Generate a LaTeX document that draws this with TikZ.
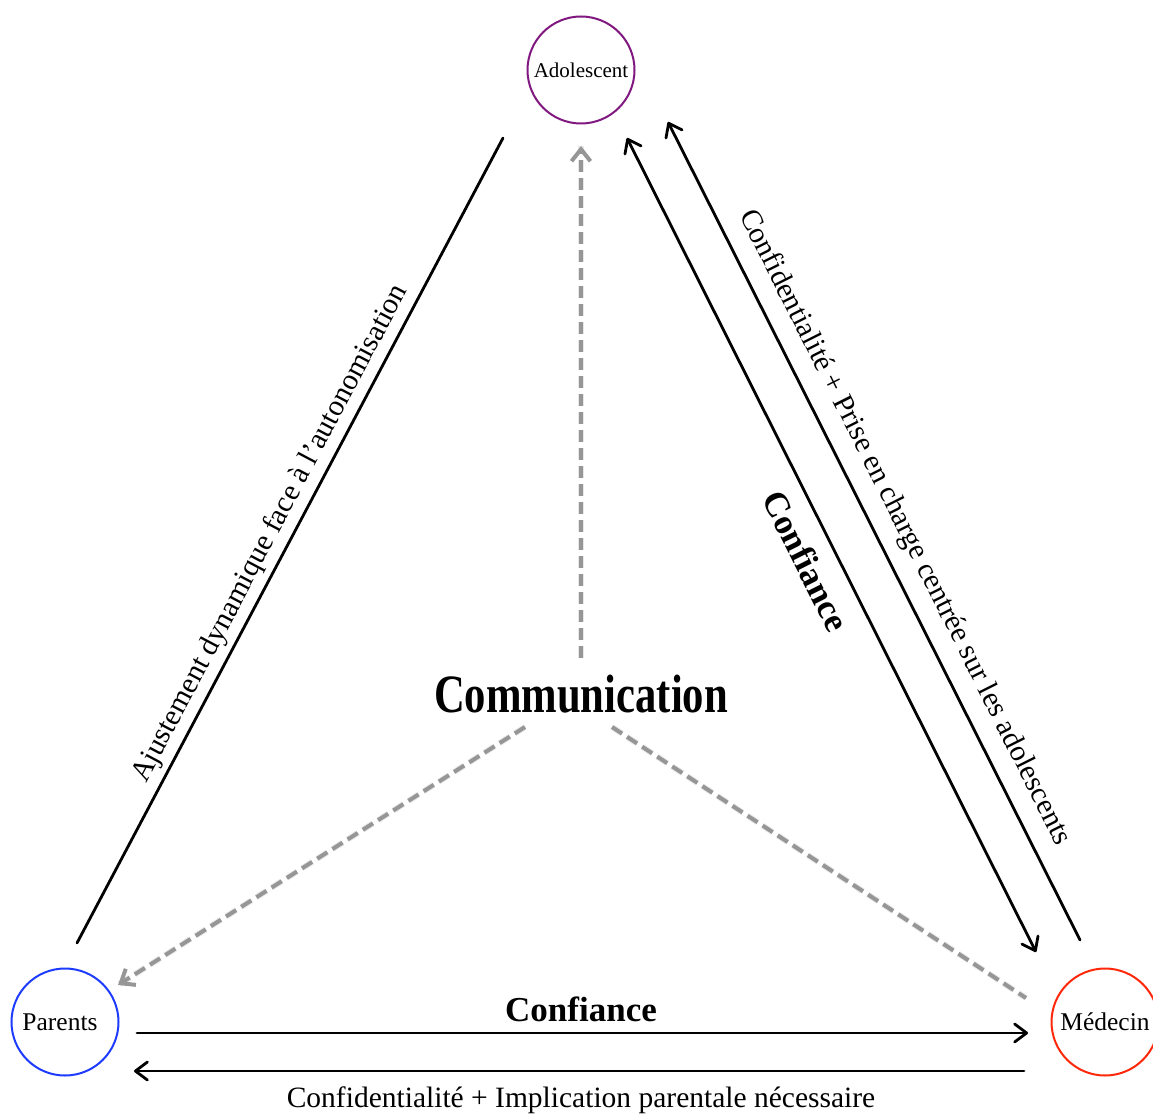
\documentclass[tikz,border=0pt]{standalone}
\usepackage{fontspec}
\setmainfont{Liberation Serif}
\usetikzlibrary{arrows.meta}
\definecolor{adolc}{RGB}{128,24,128}
\definecolor{parc}{RGB}{30,60,255}
\definecolor{medc}{RGB}{255,40,10}
\definecolor{dgray}{RGB}{150,150,150}
\begin{document}
\begin{tikzpicture}[x=1pt,y=-1pt,
  circ/.style={circle, draw, line width=2pt, minimum size=107pt, inner sep=0pt, fill=white},
  conn/.style={line width=2.8pt, black, line cap=round},
  tipb/.style={-{Straight Barb[length=12pt,width=18pt,line width=2.8pt,round]}},
  tipbb/.style={{Straight Barb[length=12pt,width=18pt,line width=2.8pt,round]}-{Straight Barb[length=12pt,width=18pt,line width=2.8pt,round]}},
  dashg/.style={line width=4pt, draw=dgray, dash pattern=on 12pt off 6pt},
  shadowg/.style={line width=6pt, draw=black!15, dash pattern=on 12pt off 6pt, opacity=0.6},
  tipg/.style={-{Straight Barb[length=12pt,width=19pt,line width=4pt]}},
  lbl/.style={font=\fontsize{29.5}{34}\selectfont, inner sep=0pt},
  lblb/.style={font=\fontsize{35}{40}\selectfont\bfseries, inner sep=0pt}
]
\useasboundingbox (0,0) rectangle (1153,1115);

% nodes
\node[circ, draw=adolc] (adol) at (581,70) {\fontsize{21}{24}\selectfont Adolescent};
\node[circ, draw=parc] (par) at (65,1022) {\fontsize{25.5}{28}\selectfont Parents\hspace*{10pt}};
\node[circ, draw=medc] (med) at (1105,1022) {\fontsize{25.5}{28}\selectfont Médecin};
\node[inner sep=0pt, anchor=base] (comm) at (581,712) {\scalebox{0.79}[1]{\fontsize{54}{60}\selectfont\bfseries Communication}};

% coordinates
\coordinate (cTop) at (581,658);
\coordinate (cL) at (525,727);
\coordinate (cR) at (612,727);
\coordinate (aTip) at (581,146);
\coordinate (pTip) at (118,985);
\coordinate (mEnd) at (1026,998);
\coordinate (l1) at (77,943);
\coordinate (l2) at (503,138);
\coordinate (r1) at (1080,940);
\coordinate (r2) at (668,122);
\coordinate (d1) at (1036,952);
\coordinate (d2) at (627,138);
\coordinate (b1) at (137,1033);
\coordinate (b2) at (1028,1033);
\coordinate (b3) at (1024,1071);
\coordinate (b4) at (134,1071);

% gray dashed connectors with soft shadow
\begin{scope}[shift={(2,3)}]
  \draw[shadowg] (cTop) -- (aTip);
  \draw[shadowg] (cL) -- (pTip);
  \draw[shadowg] (cR) -- (mEnd);
\end{scope}
\draw[dashg, tipg] (cTop) -- (aTip);
\draw[dashg, tipg] (cL) -- (pTip);
\draw[dashg] (cR) -- (mEnd);

% black connectors
\draw[conn] (l1) -- (l2);
\draw[conn, tipb] (r1) -- (r2);
\draw[conn, tipbb] (d1) -- (d2);
\draw[conn, tipb] (b1) -- (b2);
\draw[conn, tipb] (b3) -- (b4);

% labels
\node[lbl, anchor=base, rotate=62.1] (lab1) at (277,537) {Ajustement dynamique face à l’autonomisation};
\node[lbl, anchor=base, rotate=-63.3] (lab2) at (898,531) {Confidentialité + Prise en charge centrée sur les adolescents};
\node[lblb, anchor=center, rotate=-63.3] (lab3) at (806,561) {Confiance};
\node[lblb, anchor=base] (lab4) at (581,1021) {Confiance};
\node[lbl, anchor=base] (lab5) at (581,1107) {Confidentialité + Implication parentale nécessaire};
\end{tikzpicture}
\end{document}
